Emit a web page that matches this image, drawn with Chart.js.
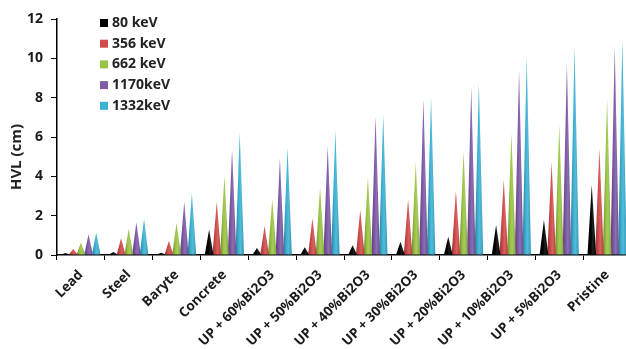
<!DOCTYPE html>
<html>
<head>
<meta charset="utf-8">
<script src="https://cdn.jsdelivr.net/npm/chart.js@4.4.0/dist/chart.umd.min.js"></script>
<style>
  html, body { margin: 0; padding: 0; background: #fff; overflow: hidden; }
  #wrap { width: 640px; height: 349px; }
</style>
</head>
<body>
<div id="wrap"><canvas id="chart"></canvas></div>
<script>
// shielding materials on the x axis
const categories = ['Lead', 'Steel', 'Baryte', 'Concrete', 'UP + 60%Bi2O3', 'UP + 50%Bi2O3',
  'UP + 40%Bi2O3', 'UP + 30%Bi2O3', 'UP + 20%Bi2O3', 'UP + 10%Bi2O3', 'UP + 5%Bi2O3', 'Pristine']

// HVL (cm) per photon energy
const hvl80 = [0.1, 0.15, 0.12, 1.3, 0.36, 0.4, 0.5, 0.68, 0.93, 1.53, 1.78, 3.56]
const hvl356 = [0.3, 0.85, 0.73, 2.71, 1.47, 1.86, 2.29, 2.83, 3.27, 3.81, 4.71, 5.42]
const hvl662 = [0.64, 1.34, 1.64, 4.03, 2.81, 3.44, 3.98, 4.69, 5.25, 6.19, 6.61, 7.92]
const hvl1170 = [1.05, 1.66, 2.7, 5.36, 4.92, 5.54, 7.03, 7.92, 8.53, 9.41, 9.75, 10.57]
const hvl1332 = [1.15, 1.83, 3.14, 6.22, 5.46, 6.32, 7.15, 8.02, 8.73, 10.08, 10.59, 10.97]

const energyLabels = ['80 keV', '356 keV', '662 keV', '1170keV', '1332keV']
const yTicks = [0, 2, 4, 6, 8, 10, 12]
const yTitle = 'HVL (cm)'

const colors = ['#000000', '#d24b4b', '#9bc445', '#7f5aa8', '#3cb2d4']
const FONT = '"Open Sans", Lato, sans-serif'

function shade(hex, amt) {
  let n = parseInt(hex.slice(1), 16)
  let r = n >> 16, g = (n >> 8) & 255, b = n & 255
  const f = c => Math.max(0, Math.min(255, Math.round(c + (amt < 0 ? c * amt : (255 - c) * amt))))
  return `rgb(${f(r)},${f(g)},${f(b)})`
}

// draw each bar as a cone (triangle) using the bar element geometry
const conePlugin = {
  id: 'cones',
  beforeDatasetDraw(chart, args) {
    const ctx = chart.ctx
    const area = chart.chartArea
    const color = chart.data.datasets[args.index].backgroundColor
    ctx.save()
    ctx.beginPath()
    ctx.rect(area.left, area.top - 20, area.right - area.left, area.bottom - area.top + 20)
    ctx.clip()
    args.meta.data.forEach(bar => {
      const half = bar.width * 0.56
      const grad = ctx.createLinearGradient(bar.x - half, 0, bar.x + half, 0)
      grad.addColorStop(0, shade(color, -0.3))
      grad.addColorStop(0.4, color)
      grad.addColorStop(0.6, shade(color, 0.12))
      grad.addColorStop(1, shade(color, -0.15))
      ctx.fillStyle = grad
      ctx.beginPath()
      ctx.moveTo(bar.x - half, bar.base)
      ctx.lineTo(bar.x, bar.y)
      ctx.lineTo(bar.x + half, bar.base)
      ctx.closePath()
      ctx.fill()
    })
    ctx.restore()
    return false
  }
}

// legend inside the plot, top left, plus the y title sitting a bit low like the original
const extras = {
  id: 'extras',
  afterDraw(chart) {
    const ctx = chart.ctx
    const area = chart.chartArea
    const x0 = area.left + 43
    const y0 = area.top + 4
    ctx.save()
    ctx.font = 'bold 14px ' + FONT
    ctx.textBaseline = 'middle'
    chart.data.datasets.forEach((ds, i) => {
      const y = y0 + i * 20.7
      ctx.fillStyle = ds.backgroundColor
      ctx.fillRect(x0, y - 4, 8, 8)
      ctx.fillStyle = '#222'
      ctx.fillText(ds.label, x0 + 12, y)
    })
    ctx.translate(17, (area.top + area.bottom) / 2 + 20)
    ctx.rotate(-Math.PI / 2)
    ctx.textAlign = 'center'
    ctx.font = 'bold 15px ' + FONT
    ctx.fillText(yTitle, 0, 0)
    ctx.restore()
  }
}

const series = [hvl80, hvl356, hvl662, hvl1170, hvl1332]

new Chart(document.getElementById('chart'), {
  type: 'bar',
  data: {
    labels: categories,
    datasets: series.map((vals, i) => ({
      label: energyLabels[i],
      data: vals,
      backgroundColor: colors[i],
      barPercentage: 1,
      categoryPercentage: 0.8
    }))
  },
  options: {
    responsive: true,
    maintainAspectRatio: false,
    animation: false,
    layout: { padding: { top: 19, right: 9, left: 0, bottom: 0 } },
    plugins: {
      legend: { display: false },
      tooltip: { enabled: false }
    },
    scales: {
      x: {
        grid: { display: true, drawOnChartArea: false, offset: true, color: '#000', tickLength: 5 },
        border: { color: '#000', width: 1.5 },
        ticks: {
          autoSkip: false,
          maxRotation: 45,
          minRotation: 45,
          color: '#1a1a1a',
          padding: 7,
          font: { family: FONT, size: 13.5, weight: 'bold' }
        },
        afterFit(scale) { scale.height = 94 }
      },
      y: {
        min: 0,
        max: 12,
        afterBuildTicks(scale) { scale.ticks = yTicks.map(v => ({ value: v })) },
        grid: { display: true, drawOnChartArea: false, color: '#000', tickLength: 6 },
        border: { color: '#000', width: 1.5 },
        ticks: {
          color: '#1a1a1a',
          padding: 8,
          font: { family: FONT, size: 14, weight: 'bold' }
        },
        afterFit(scale) { scale.width = 57 }
      }
    }
  },
  plugins: [conePlugin, extras]
})
</script>
</body>
</html>
